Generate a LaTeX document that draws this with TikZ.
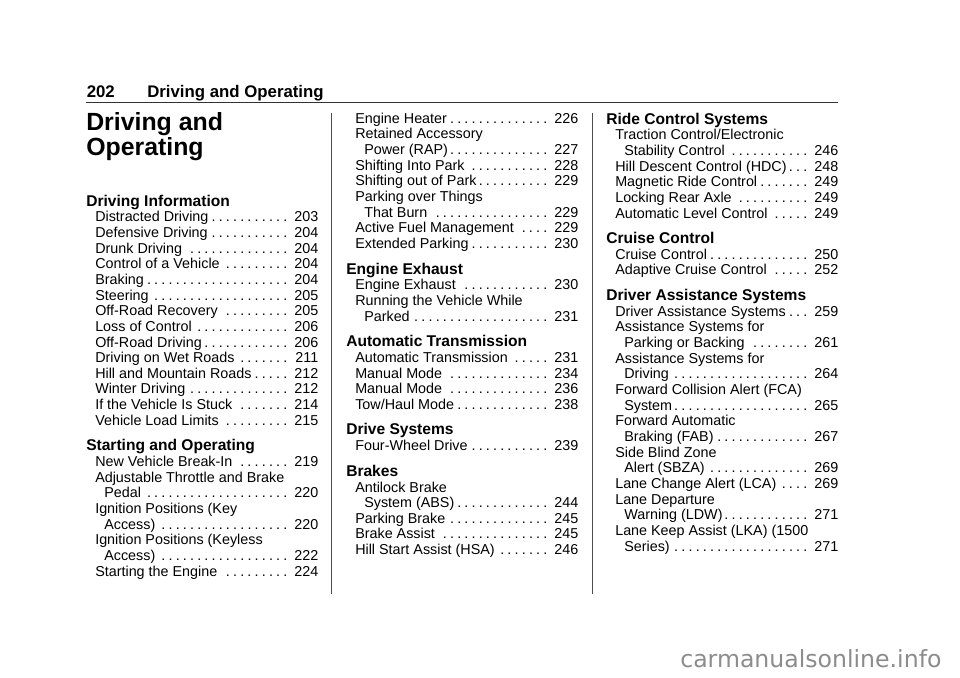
\documentclass[tikz,border=0pt]{standalone}
\usepackage{fontspec}
\setmainfont{Liberation Sans}
\newfontfamily\wmfont{DejaVu Sans}
\usepackage{tikz}

\newlength\tocwd
\setlength\tocwd{167.25pt}
% one line of the contents: text, dot leaders, page number
\newcommand\tocrow[3][0pt]{\hbox to \tocwd{\hspace*{#1}#2\leaders\hbox to .5em{\hss.\hss}\hfill\hspace{1.5pt}#3}}
\newcommand\sub{6.75pt}

\tikzset{
  pagehead/.style={anchor=base west, inner sep=0pt, font=\fontsize{12.6}{14}\selectfont\bfseries},
  chaptitle/.style={anchor=base west, inner sep=0pt, font=\fontsize{18.64}{22}\selectfont\bfseries},
  sechead/.style={anchor=base west, inner sep=0pt, font=\fontsize{11.68}{14}\selectfont\bfseries},
  entry/.style={anchor=base west, inner sep=0pt, font=\fontsize{10.76}{13}\selectfont},
  colrule/.style={line width=1pt, draw=black!70},
  watermark/.style={anchor=base west, inner sep=0pt, text=black!45, font=\wmfont\fontsize{17.7}{20}\selectfont},
}

\begin{document}
\begin{tikzpicture}[x=0.75pt, y=-0.75pt]
  \fill[white] (0,0) rectangle (960,678);
  \useasboundingbox (0,0) rectangle (960,678);

  % Page head
  \node[pagehead] (pgnum) at (86.5,97.3) {202};
  \node[pagehead] (pgtitle) at (147,97.3) {Driving and Operating};
  \draw[line width=1.1pt, black!80] (86,102.5) -- (838,102.5);
  \node[chaptitle] (t1) at (86,130.00) {Driving and};
  \node[chaptitle] (t2) at (86,155.00) {Operating};

  % Column 1
  \node[sechead] (h1) at (86,206.00) {Driving Information};
  \node[entry] (a1) at (95,221.80) {\tocrow{Distracted Driving}{203}};
  \node[entry] (a2) at (95,237.45) {\tocrow{Defensive Driving}{204}};
  \node[entry] (a3) at (95,253.10) {\tocrow{Drunk Driving}{204}};
  \node[entry] (a4) at (95,268.75) {\tocrow{Control of a Vehicle}{204}};
  \node[entry] (a5) at (95,284.40) {\tocrow{Braking}{204}};
  \node[entry] (a6) at (95,300.05) {\tocrow{Steering}{205}};
  \node[entry] (a7) at (95,315.70) {\tocrow{Off-Road Recovery}{205}};
  \node[entry] (a8) at (95,331.35) {\tocrow{Loss of Control}{206}};
  \node[entry] (a9) at (95,347.00) {\tocrow{Off-Road Driving}{206}};
  \node[entry] (a10) at (95,362.65) {\tocrow{Driving on Wet Roads}{211}};
  \node[entry] (a11) at (95,378.30) {\tocrow{Hill and Mountain Roads}{212}};
  \node[entry] (a12) at (95,393.95) {\tocrow{Winter Driving}{212}};
  \node[entry] (a13) at (95,409.60) {\tocrow{If the Vehicle Is Stuck}{214}};
  \node[entry] (a14) at (95,425.25) {\tocrow{Vehicle Load Limits}{215}};
  \node[sechead] (h2) at (86,450.80) {Starting and Operating};
  \node[entry] (a15) at (95,466.60) {\tocrow{New Vehicle Break-In}{219}};
  \node[entry] (a16) at (95,482.25) {Adjustable Throttle and Brake};
  \node[entry] (a17) at (95,497.90) {\tocrow[\sub]{Pedal}{220}};
  \node[entry] (a18) at (95,513.55) {Ignition Positions (Key};
  \node[entry] (a19) at (95,529.20) {\tocrow[\sub]{Access)}{220}};
  \node[entry] (a20) at (95,544.85) {Ignition Positions (Keyless};
  \node[entry] (a21) at (95,560.50) {\tocrow[\sub]{Access)}{222}};
  \node[entry] (a22) at (95,576.15) {\tocrow{Starting the Engine}{224}};

  \draw[colrule] (331.8,112.5) -- (331.8,594);

  % Column 2
  \node[entry] (b1) at (355,123.30) {\tocrow{Engine Heater}{226}};
  \node[entry] (b2) at (355,138.95) {Retained Accessory};
  \node[entry] (b3) at (355,154.60) {\tocrow[\sub]{Power (RAP)}{227}};
  \node[entry] (b4) at (355,170.25) {\tocrow{Shifting Into Park}{228}};
  \node[entry] (b5) at (355,185.90) {\tocrow{Shifting out of Park}{229}};
  \node[entry] (b6) at (355,201.55) {Parking over Things};
  \node[entry] (b7) at (355,217.20) {\tocrow[\sub]{That Burn}{229}};
  \node[entry] (b8) at (355,232.85) {\tocrow{Active Fuel Management}{229}};
  \node[entry] (b9) at (355,248.50) {\tocrow{Extended Parking}{230}};
  \node[sechead] (h3) at (346,274.00) {Engine Exhaust};
  \node[entry] (b10) at (355,289.80) {\tocrow{Engine Exhaust}{230}};
  \node[entry] (b11) at (355,305.45) {Running the Vehicle While};
  \node[entry] (b12) at (355,321.10) {\tocrow[\sub]{Parked}{231}};
  \node[sechead] (h4) at (346,346.60) {Automatic Transmission};
  \node[entry] (b13) at (355,362.40) {\tocrow{Automatic Transmission}{231}};
  \node[entry] (b14) at (355,378.05) {\tocrow{Manual Mode}{234}};
  \node[entry] (b15) at (355,393.70) {\tocrow{Manual Mode}{236}};
  \node[entry] (b16) at (355,409.35) {\tocrow{Tow/Haul Mode}{238}};
  \node[sechead] (h5) at (346,434.90) {Drive Systems};
  \node[entry] (b17) at (355,450.70) {\tocrow{Four-Wheel Drive}{239}};
  \node[sechead] (h6) at (346,476.20) {Brakes};
  \node[entry] (b18) at (355,492.00) {Antilock Brake};
  \node[entry] (b19) at (355,507.65) {\tocrow[\sub]{System (ABS)}{244}};
  \node[entry] (b20) at (355,523.30) {\tocrow{Parking Brake}{245}};
  \node[entry] (b21) at (355,538.95) {\tocrow{Brake Assist}{245}};
  \node[entry] (b22) at (355,554.60) {\tocrow{Hill Start Assist (HSA)}{246}};

  \draw[colrule] (592.3,112.5) -- (592.3,594);

  % Column 3
  \node[sechead] (h7) at (606,124.00) {Ride Control Systems};
  \node[entry] (c1) at (615,139.80) {Traction Control/Electronic};
  \node[entry] (c2) at (615,155.45) {\tocrow[\sub]{Stability Control}{246}};
  \node[entry] (c3) at (615,171.10) {\tocrow{Hill Descent Control (HDC)}{248}};
  \node[entry] (c4) at (615,186.75) {\tocrow{Magnetic Ride Control}{249}};
  \node[entry] (c5) at (615,202.40) {\tocrow{Locking Rear Axle}{249}};
  \node[entry] (c6) at (615,218.05) {\tocrow{Automatic Level Control}{249}};
  \node[sechead] (h8) at (606,243.50) {Cruise Control};
  \node[entry] (c7) at (615,259.30) {\tocrow{Cruise Control}{250}};
  \node[entry] (c8) at (615,274.95) {\tocrow{Adaptive Cruise Control}{252}};
  \node[sechead] (h9) at (606,300.50) {Driver Assistance Systems};
  \node[entry] (c9) at (615,316.30) {\tocrow{Driver Assistance Systems}{259}};
  \node[entry] (c10) at (615,331.95) {Assistance Systems for};
  \node[entry] (c11) at (615,347.60) {\tocrow[\sub]{Parking or Backing}{261}};
  \node[entry] (c12) at (615,363.25) {Assistance Systems for};
  \node[entry] (c13) at (615,378.90) {\tocrow[\sub]{Driving}{264}};
  \node[entry] (c14) at (615,394.55) {Forward Collision Alert (FCA)};
  \node[entry] (c15) at (615,410.20) {\tocrow[\sub]{System}{265}};
  \node[entry] (c16) at (615,425.85) {Forward Automatic};
  \node[entry] (c17) at (615,441.50) {\tocrow[\sub]{Braking (FAB)}{267}};
  \node[entry] (c18) at (615,457.15) {Side Blind Zone};
  \node[entry] (c19) at (615,472.80) {\tocrow[\sub]{Alert (SBZA)}{269}};
  \node[entry] (c20) at (615,488.45) {\tocrow{Lane Change Alert (LCA)}{269}};
  \node[entry] (c21) at (615,504.10) {Lane Departure};
  \node[entry] (c22) at (615,519.75) {\tocrow[\sub]{Warning (LDW)}{271}};
  \node[entry] (c23) at (615,535.40) {Lane Keep Assist (LKA) (1500};
  \node[entry] (c24) at (615,551.05) {\tocrow[\sub]{Series)}{271}};

  \node[watermark] (wm) at (680,667.3) {carmanualsonline.info};
\end{tikzpicture}
\end{document}
